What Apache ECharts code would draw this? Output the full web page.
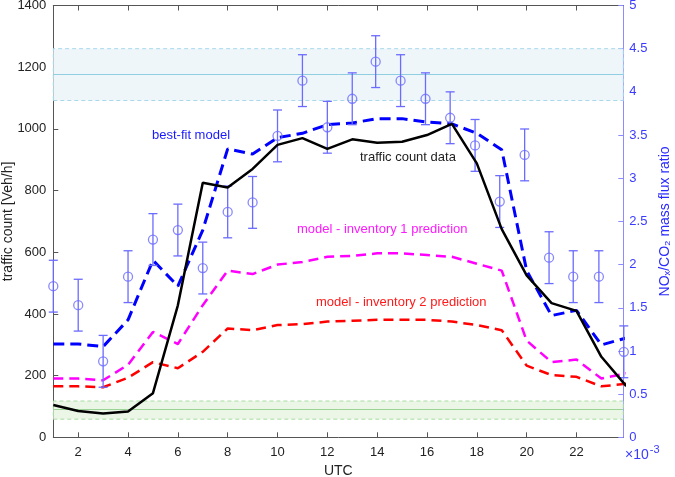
<!DOCTYPE html>
<html><head><meta charset="utf-8">
<script src="https://cdn.jsdelivr.net/npm/echarts@6/dist/echarts.min.js"></script>
<style>html,body{margin:0;padding:0;background:#fff}#c{width:675px;height:477px}</style>
</head><body><div id="c"></div>
<script>
// ---- data ----
const hours = [1,2,3,4,5,6,7,8,9,10,11,12,13,14,15,16,17,18,19,20,21,22,23,24];
const trafficCount = [105,85,77,84,143,428,825,810,870,948,970,935,966,955,958,980,1016,888,675,525,435,410,261,166];
const bestFit = [1.08,1.08,1.05,1.36,2.05,1.75,2.40,3.34,3.28,3.47,3.52,3.62,3.64,3.69,3.69,3.65,3.63,3.52,3.33,1.93,1.41,1.47,1.07,1.15];
const inventory1 = [0.68,0.68,0.66,0.84,1.22,1.08,1.53,1.93,1.89,2.00,2.03,2.09,2.10,2.13,2.13,2.11,2.09,2.01,1.93,1.12,0.87,0.90,0.68,0.74];
const inventory2 = [0.59,0.59,0.58,0.69,0.87,0.80,0.99,1.26,1.24,1.30,1.31,1.34,1.35,1.36,1.36,1.36,1.34,1.30,1.24,0.83,0.72,0.70,0.59,0.62];
const obsHours = [1,2,3,4,5,6,7,8,9,10,11,12,13,13.94,14.94,15.94,16.93,17.93,18.92,19.92,20.9,21.87,22.9,23.9];
const obsRatio = [1.75,1.53,0.88,1.86,2.29,2.40,1.96,2.61,2.72,3.49,4.13,3.59,3.92,4.35,4.13,3.92,3.70,3.38,2.73,3.27,2.08,1.86,1.86,0.99];
const obsErr = [0.3,0.3,0.3,0.3,0.3,0.3,0.3,0.3,0.3,0.3,0.3,0.3,0.3,0.3,0.3,0.3,0.3,0.3,0.3,0.3,0.3,0.3,0.3,0.3];
const trafficRatioBand = [3.9, 4.2, 4.5];       // low, central, high
const residentialBand = [0.21, 0.315, 0.42];    // low, central, high
const xTicks = [2,4,6,8,10,12,14,16,18,20,22];
const leftTicks = [0,200,400,600,800,1000,1200,1400];
const rightTicks = [0,0.5,1,1.5,2,2.5,3,3.5,4,4.5,5];

const FONT = 'Liberation Sans, Arial, DejaVu Sans, sans-serif';
const BLUE_AX = '#3b3bff';
const ERR = '#6b6bff';

const chart = echarts.init(document.getElementById('c'), null, {renderer:'canvas'});

const lineData = arr => hours.map((h,i)=>[h, arr[i]]);

const option = {
  animation:false,
  textStyle:{fontFamily:FONT},
  grid:{left:53.3, right:51.7, top:5.5, bottom:39.7, show:false, containLabel:false, outerBoundsMode:'none'},
  xAxis:[{
    type:'value', min:1, max:23.88, position:'bottom',
    axisLine:{show:true,onZero:false,lineStyle:{color:'#555',width:1}},
    axisTick:{show:true,inside:true,length:5,customValues:xTicks,lineStyle:{color:'#555'}},
    axisLabel:{show:true,customValues:xTicks,color:'#222',fontSize:13,margin:9,fontFamily:FONT,formatter:v=>String(v)},
    splitLine:{show:false},
    name:'UTC', nameLocation:'middle', nameGap:27,
    nameTextStyle:{color:'#222',fontSize:14,fontFamily:FONT}
  },{
    type:'value', min:1, max:23.88, position:'top',
    axisLine:{show:true,onZero:false,lineStyle:{color:'#555',width:1}},
    axisTick:{show:true,inside:true,length:5,customValues:xTicks,lineStyle:{color:'#555'}},
    axisLabel:{show:false}, splitLine:{show:false}
  }],
  yAxis:[{
    type:'value', min:0, max:1400, interval:200, position:'left',
    axisLine:{show:true,onZero:false,lineStyle:{color:'#555',width:1}},
    axisTick:{show:true,inside:true,length:5,lineStyle:{color:'#555'}},
    axisLabel:{color:'#222',fontSize:13,margin:7,fontFamily:FONT,formatter:v=>String(v)},
    splitLine:{show:false},
    name:'traffic count [Veh/h]', nameLocation:'middle', nameGap:38, nameRotate:90,
    nameMoveOverlap:false,
    nameTextStyle:{color:'#222',fontSize:14,fontFamily:FONT}
  },{
    type:'value', min:0, max:5, interval:0.5, position:'right',
    axisLine:{show:true,onZero:false,lineStyle:{color:'#8c8cff',width:1}},
    axisTick:{show:true,inside:true,length:5,lineStyle:{color:'#8c8cff'}},
    axisLabel:{color:BLUE_AX,fontSize:13,margin:6,fontFamily:FONT,formatter:v=>String(v)},
    splitLine:{show:false},
    name:'NOₓ/CO₂ mass flux ratio', nameLocation:'middle', nameGap:31, nameRotate:90,
    nameTextStyle:{color:'#2a2aff',fontSize:14,fontFamily:FONT}
  }],
  series:[
    { // bands
      type:'line', yAxisIndex:1, data:[], silent:true,
      markArea:{silent:true, data:[
        [{yAxis:trafficRatioBand[0], itemStyle:{color:'#eef6fa',borderColor:'#a9d9ec',borderWidth:1,borderType:[4,3]}},{yAxis:trafficRatioBand[2]}],
        [{yAxis:residentialBand[0], itemStyle:{color:'#ebf6e7',borderColor:'#a8dca2',borderWidth:1,borderType:[4,3]}},{yAxis:residentialBand[2]}]
      ]},
      markLine:{silent:true, symbol:['none','none'], label:{show:false}, data:[
        {yAxis:trafficRatioBand[1], lineStyle:{color:'#8fcde0',type:'solid',width:1}},
        {yAxis:residentialBand[1], lineStyle:{color:'#9ad393',type:'solid',width:1}}
      ]}
    },
    { type:'line', yAxisIndex:1, data:lineData(inventory2), symbol:'none', z:3,
      lineStyle:{color:'#ff0000',width:2.5,type:[10,6]} },
    { type:'line', yAxisIndex:1, data:lineData(inventory1), symbol:'none', z:3,
      lineStyle:{color:'#ff00ff',width:2.5,type:[10,6]} },
    { type:'line', yAxisIndex:1, data:lineData(bestFit), symbol:'none', z:4,
      lineStyle:{color:'#0000ff',width:3,type:[11,6]} },
    { type:'custom', yAxisIndex:1, z:5, clip:false,
      data: obsHours.map((h,i)=>[h, obsRatio[i]-obsErr[i], obsRatio[i]+obsErr[i]]),
      renderItem:(params, api)=>{
        const lo = api.coord([api.value(0), api.value(1)]);
        const hi = api.coord([api.value(0), api.value(2)]);
        const w = 4.5;
        const st = {stroke:ERR, lineWidth:1.3};
        return {type:'group', children:[
          {type:'line', shape:{x1:lo[0],y1:lo[1],x2:hi[0],y2:hi[1]}, style:st},
          {type:'line', shape:{x1:lo[0]-w,y1:lo[1],x2:lo[0]+w,y2:lo[1]}, style:st},
          {type:'line', shape:{x1:hi[0]-w,y1:hi[1],x2:hi[0]+w,y2:hi[1]}, style:st}
        ]};
      }
    },
    { type:'scatter', yAxisIndex:1, z:6, clip:false,
      data: obsHours.map((h,i)=>[h, obsRatio[i]]),
      symbol:'circle', symbolSize:9,
      itemStyle:{color:'rgba(255,255,255,0)', borderColor:ERR, borderWidth:1.3} },
    { type:'line', yAxisIndex:0, data:lineData(trafficCount), symbol:'none', z:7,
      lineStyle:{color:'#000',width:2.5} }
  ],
  graphic:[
    {type:'text', left:485, top:58, style:{text:'calculated traffic ratio', fill:'#222', font:'13px '+FONT}},
    {type:'text', left:397, top:403, style:{text:'calculated residential combustion ratio', fill:'#222', font:'13px '+FONT}},
    {type:'text', left:152, top:129, style:{text:'best-fit model', fill:'#1a1aff', font:'13px '+FONT}},
    {type:'text', left:360, top:151, style:{text:'traffic count data', fill:'#222', font:'13px '+FONT}},
    {type:'text', left:297, top:223, style:{text:'model - inventory 1 prediction', fill:'#ff1aff', font:'13px '+FONT}},
    {type:'text', left:316, top:296, style:{text:'model - inventory 2 prediction', fill:'#ff1a1a', font:'13px '+FONT}},
    {type:'text', left:625, top:444, style:{
      text:'{a|×10}{b|-3}', fill:BLUE_AX,
      rich:{
        a:{fontSize:14, fontFamily:FONT, fill:BLUE_AX, verticalAlign:'bottom', lineHeight:20},
        b:{fontSize:11, fontFamily:FONT, fill:BLUE_AX, verticalAlign:'bottom', lineHeight:20, padding:[0,0,7,1]}
      }}}
  ]
};
chart.setOption(option);
</script></body></html>
